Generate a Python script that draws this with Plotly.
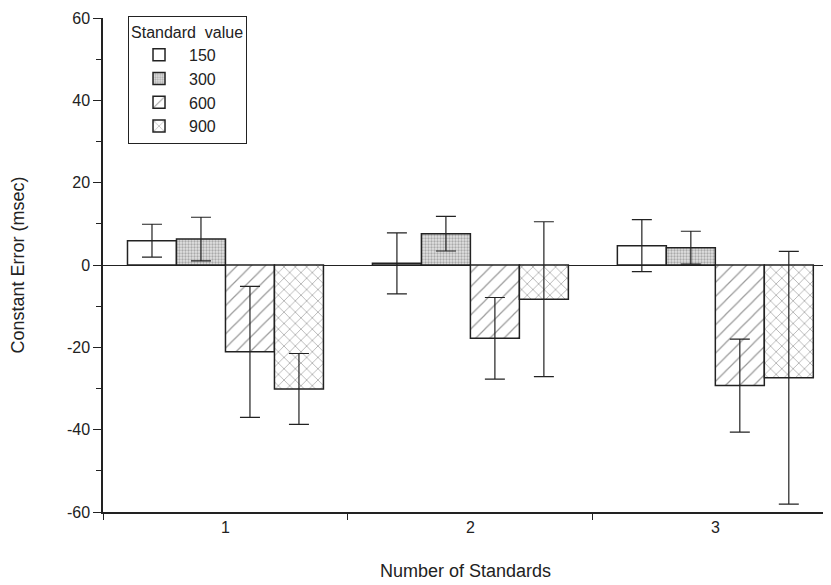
import plotly.graph_objects as go

categories = ["1", "2", "3"]
series_names = ["150", "300", "600", "900"]
values = {
    "150": [5.9, 0.4, 4.7],
    "300": [6.3, 7.6, 4.2],
    "600": [-21.1, -17.8, -29.3],
    "900": [-30.1, -8.3, -27.4],
}
errors = {
    "150": [4.0, 7.4, 6.3],
    "300": [5.3, 4.2, 4.0],
    "600": [15.9, 9.9, 11.3],
    "900": [8.6, 18.8, 30.7],
}
y_ticks = [-60, -40, -20, 0, 20, 40, 60]
y_tick_text = ["-60", "-40", "-20", "0", "20", "40", "60"]

styles = {
    "150": dict(shape="", fgcolor="black", bgcolor="white", size=8, solidity=0.2),
    "300": dict(shape=".", fgcolor="#707070", bgcolor="#e2e2e2", size=3, solidity=0.45),
    "600": dict(shape="/", fgcolor="#333333", bgcolor="white", size=10, solidity=0.12),
    "900": dict(shape="x", fgcolor="#333333", bgcolor="white", size=8, solidity=0.16),
}

fig = go.Figure()
for name in series_names:
    st = styles[name]
    fig.add_trace(go.Bar(
        x=categories, y=values[name], name=name, legendgroup=name,
        marker=dict(color=st["bgcolor"], line=dict(color="#222222", width=1.5),
                    pattern=dict(shape=st["shape"], fgcolor=st["fgcolor"],
                                 bgcolor=st["bgcolor"], size=st["size"],
                                 solidity=st["solidity"])),
        error_y=dict(type="data", array=errors[name], color="#222222",
                     thickness=1.2, width=10),
    ))

font = "Liberation Sans, Arial, sans-serif"
fig.update_layout(
    width=823, height=577,
    margin=dict(l=95, r=3, t=10, b=73),
    paper_bgcolor="white", plot_bgcolor="white",
    barmode="group", bargap=0.2, bargroupgap=0.0,
    font=dict(family=font, color="#222222", size=16),
    legend=dict(
        title=dict(text="Standard  value", font=dict(size=16, family=font)),
        font=dict(size=16, family=font),
        x=0.0345, y=1.004, xanchor="left", yanchor="top",
        bordercolor="#222222", borderwidth=1, bgcolor="white",
        tracegroupgap=0, itemwidth=50,
    ),
    showlegend=True,
)
fig.update_xaxes(
    type="category", range=[-0.5, 2.46], automargin=False,
    showline=True, linecolor="#222222", linewidth=1.5,
    ticks="outside", tickson="boundaries", ticklen=6, tickcolor="#222222",
    showgrid=False, zeroline=False,
    tickfont=dict(size=16, family=font),
    title=dict(text="Number of Standards", font=dict(size=18, family=font), standoff=29),
)
fig.update_yaxes(
    range=[-60, 60], tickvals=y_ticks, ticktext=y_tick_text, automargin=False,
    showline=True, linecolor="#222222", linewidth=1.5,
    ticks="outside", ticklen=8, tickcolor="#222222",
    minor=dict(dtick=10, ticks="outside", ticklen=5, tickcolor="#222222", showgrid=False),
    showgrid=False,
    zeroline=True, zerolinecolor="#222222", zerolinewidth=1.2,
    tickfont=dict(size=16, family=font),
    title=dict(text="Constant Error (msec)", font=dict(size=18, family=font), standoff=40),
)

fig.write_html("out.html")
